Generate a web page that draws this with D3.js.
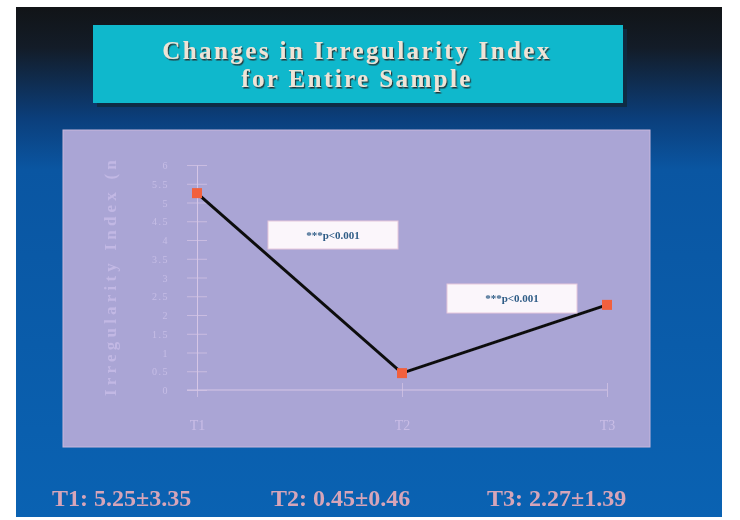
<!DOCTYPE html>
<html>
<head>
<meta charset="utf-8">
<script src="https://cdn.jsdelivr.net/npm/d3@7"></script>
<style>
  html, body { margin: 0; padding: 0; background: #ffffff; }
  svg { display: block; }
</style>
</head>
<body>
<svg id="chart" width="740" height="520"></svg>
<script>
// Irregularity index at the three time points
const categories = ["T1", "T2", "T3"];
const means = [5.25, 0.45, 2.27];
const sds = [3.35, 0.46, 1.39];
const yTicks = [0, 0.5, 1, 1.5, 2, 2.5, 3, 3.5, 4, 4.5, 5, 5.5, 6];
const significance = ["***p<0.001", "***p<0.001"];
const titleLines = ["Changes in Irregularity Index", "for Entire Sample"];
const yTitle = "Irregularity Index (n";

const svg = d3.select("#chart");
const defs = svg.append("defs");

// Slide background: near-black at the top fading into blue
const bg = defs.append("linearGradient").attr("id", "slideBg")
  .attr("x1", 0).attr("y1", 0).attr("x2", 0).attr("y2", 1);
bg.append("stop").attr("offset", "0%").attr("stop-color", "#111417");
bg.append("stop").attr("offset", "8%").attr("stop-color", "#131c28");
bg.append("stop").attr("offset", "22%").attr("stop-color", "#0b3f7c");
bg.append("stop").attr("offset", "32%").attr("stop-color", "#0a56a2");
bg.append("stop").attr("offset", "100%").attr("stop-color", "#0a62b2");

const soft = defs.append("filter").attr("id", "soft");
soft.append("feGaussianBlur").attr("stdDeviation", 0.6);

const shadow = defs.append("filter").attr("id", "textShadow")
  .attr("x", "-5%").attr("y", "-20%").attr("width", "110%").attr("height", "140%");
shadow.append("feDropShadow").attr("dx", 1.2).attr("dy", 1.5)
  .attr("stdDeviation", 0.7).attr("flood-color", "#2a2a2a").attr("flood-opacity", 0.9);

svg.append("rect").attr("x", 16).attr("y", 7).attr("width", 706).attr("height", 510)
  .attr("fill", "url(#slideBg)");

// Title banner
svg.append("rect").attr("x", 97).attr("y", 29).attr("width", 530).attr("height", 78)
  .attr("fill", "#0f2a40").attr("opacity", 0.9);
svg.append("rect").attr("x", 93).attr("y", 25).attr("width", 530).attr("height", 78)
  .attr("fill", "#0fb8cc");
svg.append("g").attr("filter", "url(#textShadow)")
  .selectAll("text").data(titleLines).join("text")
  .attr("x", 357).attr("y", (d, i) => 59 + i * 28)
  .attr("text-anchor", "middle")
  .attr("font-family", "Liberation Serif, serif")
  .attr("font-weight", "bold")
  .attr("font-size", 25)
  .attr("letter-spacing", 2.4)
  .attr("fill", "#eee3d6")
  .text(d => d);

// Lavender plot panel
svg.append("rect").attr("x", 63).attr("y", 130).attr("width", 587).attr("height", 317)
  .attr("fill", "#aaa5d5").attr("stroke", "#c9b7dc").attr("stroke-width", 1);

// Scales
const x = d3.scalePoint().domain(categories).range([197, 607]);
const y = d3.scaleLinear().domain([0, 6]).range([390, 165]);

const axisColor = "#d6c6e6";
const plot = svg.append("g").attr("filter", "url(#soft)");

// Y axis with ticks crossing the line
const yAxis = d3.axisLeft(y).tickValues(yTicks).tickSize(0).tickPadding(0)
  .tickFormat(d => d3.format("~g")(d));
const yg = plot.append("g").attr("transform", "translate(197,0)").call(yAxis);
yg.select(".domain").attr("stroke", axisColor).attr("stroke-width", 1);
yg.selectAll(".tick line").attr("x1", -10).attr("x2", 10)
  .attr("stroke", axisColor).attr("stroke-opacity", 0.7);
yg.selectAll(".tick text").attr("x", -28).attr("dy", "0.35em")
  .attr("fill", "#c6bde6").attr("font-size", 10).attr("letter-spacing", 1.5)
  .attr("font-family", "Liberation Serif, serif");

// X axis
const xAxis = d3.axisBottom(x).tickSize(0).tickPadding(0);
const xg = plot.append("g").attr("transform", "translate(0,390)").call(xAxis);
xg.select(".domain").remove();
xg.append("line").attr("x1", 187).attr("x2", 607).attr("y1", 0).attr("y2", 0)
  .attr("stroke", axisColor).attr("stroke-width", 1);
xg.selectAll(".tick line").attr("y1", -7).attr("y2", 7)
  .attr("stroke", axisColor).attr("stroke-opacity", 0.7);
xg.selectAll(".tick text").attr("y", 30)
  .attr("fill", "#c9bde6").attr("font-size", 14)
  .attr("font-family", "Liberation Serif, serif");

// Y axis title, rotated
plot.append("text")
  .attr("transform", "translate(110,276) rotate(-90)")
  .attr("text-anchor", "middle").attr("dy", "0.35em")
  .attr("font-family", "Liberation Serif, serif").attr("font-weight", "bold")
  .attr("font-size", 17).attr("letter-spacing", 4.2)
  .attr("fill", "#c2b8e4")
  .text(yTitle);

// Mean line and markers
const line = d3.line().x((d, i) => x(categories[i])).y(d => y(d));
plot.append("path").datum(means).attr("d", line)
  .attr("fill", "none").attr("stroke", "#111111").attr("stroke-width", 3);
plot.selectAll(".marker").data(means).join("rect").attr("class", "marker")
  .attr("x", (d, i) => x(categories[i]) - 5).attr("y", d => y(d) - 5)
  .attr("width", 10).attr("height", 10).attr("fill", "#f2603c");

// Significance labels between consecutive time points
const labelBoxes = [
  { x: 268, y: 221, w: 130, h: 28 },
  { x: 447, y: 284, w: 130, h: 29 }
];
const sig = plot.selectAll(".sig").data(significance).join("g").attr("class", "sig");
sig.append("rect")
  .attr("x", (d, i) => labelBoxes[i].x).attr("y", (d, i) => labelBoxes[i].y)
  .attr("width", (d, i) => labelBoxes[i].w).attr("height", (d, i) => labelBoxes[i].h)
  .attr("fill", "#fbf6fb").attr("stroke", "#e6c8dc");
sig.append("text")
  .attr("x", (d, i) => labelBoxes[i].x + labelBoxes[i].w / 2)
  .attr("y", (d, i) => labelBoxes[i].y + labelBoxes[i].h / 2)
  .attr("dy", "0.35em").attr("text-anchor", "middle")
  .attr("font-family", "Liberation Serif, serif").attr("font-size", 11)
  .attr("font-weight", "bold")
  .attr("fill", "#2f5c86")
  .text(d => d);

// Summary statistics under the panel
const summaryX = [52, 271, 487];
svg.append("g").attr("filter", "url(#soft)")
  .selectAll("text").data(categories).join("text")
  .attr("x", (d, i) => summaryX[i]).attr("y", 506)
  .attr("font-family", "Liberation Serif, serif").attr("font-size", 24)
  .attr("font-weight", "bold")
  .attr("fill", "#d6a5b9")
  .text((d, i) => `${d}: ${means[i].toFixed(2)}±${sds[i].toFixed(2)}`);
</script>
</body>
</html>
